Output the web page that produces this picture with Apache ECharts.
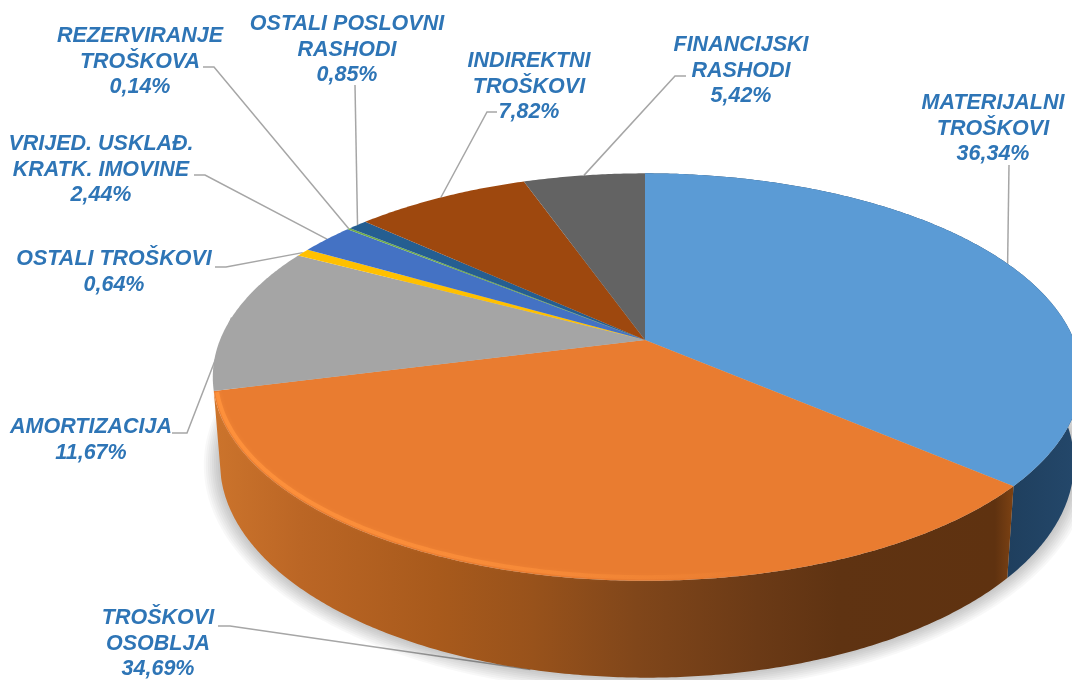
<!DOCTYPE html>
<html>
<head>
<meta charset="utf-8">
<style>
  html, body { margin: 0; padding: 0; background: #fff; }
  #chart { width: 1072px; height: 680px; }
</style>
<script src="https://cdn.jsdelivr.net/npm/echarts@6/dist/echarts.min.js"></script>
</head>
<body>
<div id="chart"></div>
<script>
// clockwise from 12 o'clock
var categories = [
  'MATERIJALNI\nTROŠKOVI', 'TROŠKOVI\nOSOBLJA', 'AMORTIZACIJA', 'OSTALI TROŠKOVI',
  'VRIJED. USKLAĐ.\nKRATK. IMOVINE', 'REZERVIRANJE\nTROŠKOVA', 'OSTALI POSLOVNI\nRASHODI',
  'INDIREKTNI\nTROŠKOVI', 'FINANCIJSKI\nRASHODI'
];
var shares = [36.34, 34.69, 11.67, 0.64, 2.44, 0.14, 0.85, 7.82, 5.42];
var colors = ['#5b9bd5', '#e97c30', '#a5a5a5', '#ffc000', '#4472c4', '#70ad47', '#255e91', '#9e480e', '#636363'];

var total = shares.reduce(function (a, b) { return a + b; }, 0);
var startAngles = [];
shares.reduce(function (acc, v, i) { startAngles[i] = acc; return acc + v; }, 0);

// perspective disc: top face and bottom face of the cylinder
var topFace = { cx: 645, cy: 340, a: 429, aLeft: 425, b: 197, k: 0.182 };
var bottomFace = { cx: 647, cy: 424, a: 420, aLeft: 420, b: 208, k: 0.18 };

function project(face, deg) {
  var t = deg * Math.PI / 180;
  var X = Math.sin(t), Y = Math.cos(t), w = 1 + face.k * Y;
  return [face.cx + (X < 0 ? face.aLeft : face.a) * X / w, face.cy - face.b * Y / w];
}
function angleOf(v) { return v / total * 360; }
function arc(face, from, to) {
  var pts = [], n = Math.max(2, Math.ceil(Math.abs(to - from) * 2));
  for (var i = 0; i <= n; i++) pts.push(project(face, from + (to - from) * i / n));
  return pts;
}
function grown(face, d) {
  return { cx: face.cx, cy: face.cy, a: face.a + d, aLeft: face.aLeft + d, b: face.b + d * 0.8, k: face.k };
}
function sliceRange(i) {
  var from = angleOf(startAngles[i]);
  return [from, from + angleOf(shares[i])];
}

// label box centre, then where the leader line leaves the label
var labelBoxes = [
  { x: 993, y: 129, line: [[1009, 165]] },
  { x: 158, y: 644, line: [[218, 626], [230, 626]], onBottom: true },
  { x: 91, y: 440, line: [[172, 433], [187, 433]] },
  { x: 114, y: 272, line: [[215, 267], [226, 267]] },
  { x: 101, y: 170, line: [[194, 175], [205, 175]] },
  { x: 140, y: 62, line: [[203, 67], [214, 67]] },
  { x: 347, y: 50, line: [[355, 85]] },
  { x: 529, y: 87, line: [[497, 112], [487, 112]] },
  { x: 741, y: 71, line: [[686, 76], [675, 76]] }
];

var sideFills = [
  new echarts.graphic.LinearGradient(1008, 0, 1080, 0, [
    { offset: 0, color: '#1f3f5e' }, { offset: 1, color: '#24486b' }
  ], true),
  new echarts.graphic.LinearGradient(212, 0, 1015, 0, [
    { offset: 0, color: '#cc742c' },
    { offset: 0.11, color: '#bb6625' },
    { offset: 0.28, color: '#a85a1c' },
    { offset: 0.4, color: '#98521b' },
    { offset: 0.53, color: '#80461a' },
    { offset: 0.68, color: '#6b3a16' },
    { offset: 0.78, color: '#5f3312' },
    { offset: 0.975, color: '#5f3210' },
    { offset: 1, color: '#7f4313' }
  ], true)
];
var rimStroke = new echarts.graphic.LinearGradient(212, 0, 760, 0, [
  { offset: 0, color: 'rgba(255,146,60,0.9)' },
  { offset: 0.6, color: 'rgba(255,146,60,0.55)' },
  { offset: 1, color: 'rgba(255,146,60,0)' }
], true);

function renderLeader(params) {
  var i = params.dataIndex, r = sliceRange(i), mid = (r[0] + r[1]) / 2;
  var box = labelBoxes[i];
  return {
    type: 'polyline',
    shape: { points: box.line.concat([project(box.onBottom ? bottomFace : topFace, mid)]) },
    style: { stroke: '#a6a6a6', lineWidth: 1.5, fill: null }
  };
}

function renderSide(params) {
  var i = params.dataIndex, r = sliceRange(i);
  var children = [];
  if (i === 0) {
    // soft shadow under the whole disc, stacked translucent rings
    for (var d = 16; d > 0; d -= 2) {
      children.push({
        type: 'polygon',
        shape: { points: arc(grown(bottomFace, d), 0, 360) },
        style: { fill: 'rgba(0,0,0,0.028)' }
      });
    }
  }
  if (sideFills[i]) {
    children.push({
      type: 'polygon',
      shape: { points: arc(topFace, r[0], r[1]).concat(arc(bottomFace, r[1], r[0])) },
      style: { fill: sideFills[i] }
    });
  }
  return { type: 'group', children: children };
}

function renderFace(params) {
  var i = params.dataIndex, r = sliceRange(i);
  var children = [{
    type: 'polygon',
    shape: { points: [[topFace.cx, topFace.cy]].concat(arc(topFace, r[0], r[1])) },
    style: { fill: colors[i] }
  }];
  if (i === 1) {
    var inner = { cx: topFace.cx, cy: topFace.cy, a: topFace.a - 3, aLeft: topFace.aLeft - 3, b: topFace.b - 3, k: topFace.k };
    children.push({
      type: 'polyline',
      shape: { points: arc(inner, r[0] + 2, r[1] - 0.5) },
      style: { stroke: rimStroke, lineWidth: 4, fill: null, shadowBlur: 4, shadowColor: 'rgba(255,146,60,0.5)' }
    });
  }
  return { type: 'group', children: children };
}

function renderLabel(params) {
  var i = params.dataIndex, box = labelBoxes[i];
  return {
    type: 'text',
    style: {
      text: categories[i] + '\n' + shares[i].toFixed(2).replace('.', ',') + '%',
      x: box.x, y: box.y,
      align: 'center', verticalAlign: 'middle',
      fontFamily: '"Liberation Sans", Arial, sans-serif',
      fontStyle: 'italic', fontWeight: 'bold', fontSize: 21.5, lineHeight: 25.5,
      fill: '#2e75b6'
    }
  };
}

function layer(render, z) {
  return { type: 'custom', coordinateSystem: 'none', data: shares, renderItem: render, z: z, silent: true };
}

var chart = echarts.init(document.getElementById('chart'), null, { renderer: 'canvas' });
chart.setOption({
  animation: false,
  backgroundColor: '#fff',
  series: [layer(renderLeader, 1), layer(renderSide, 2), layer(renderFace, 3), layer(renderLabel, 4)]
});
</script>
</body>
</html>
